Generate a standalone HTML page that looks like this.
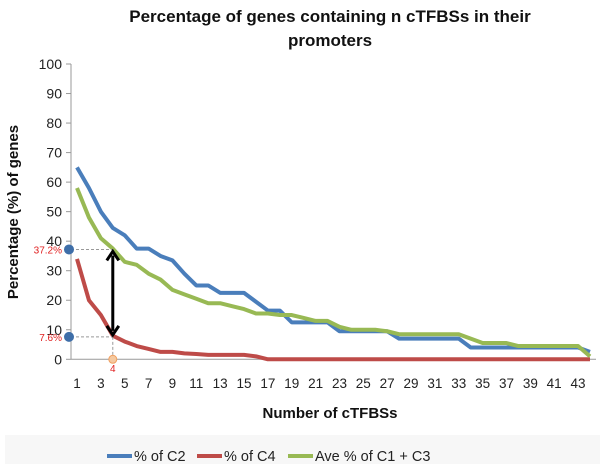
<!DOCTYPE html>
<html><head><meta charset="utf-8"><style>
body{margin:0;background:#fff;}
svg text{font-family:"Liberation Sans",sans-serif;}
</style></head><body>
<svg id="chart" width="600" height="464" xmlns="http://www.w3.org/2000/svg">
<rect x="5" y="435" width="595" height="29" fill="#f7f7f7"/>
<text x="330" y="22" font-size="17" font-weight="bold" text-anchor="middle" fill="#111">Percentage of genes containing n cTFBSs in their</text>
<text x="330" y="46" font-size="17" font-weight="bold" text-anchor="middle" fill="#111">promoters</text>
<text x="0" y="0" font-size="15" font-weight="bold" text-anchor="middle" fill="#111" transform="translate(18,212) rotate(-90)">Percentage (%) of genes</text>
<text x="330" y="418" font-size="15" font-weight="bold" text-anchor="middle" fill="#111">Number of cTFBSs</text>
<g id="axes"></g>
<g id="series"></g>
<g id="annot"></g>
<g id="legend"></g>
</svg>
<script>
const categories = Array.from({length:44},(_,i)=>i+1);
const c2 = [65,58,50,44.5,42,37.5,37.5,35,33.5,29,25,25,22.5,22.5,22.5,19.5,16.5,16.5,12.5,12.5,12.5,12.5,9.5,9.5,9.5,9.5,9.5,7,7,7,7,7,7,4,4,4,4,4,4,4,4,4,4,2.5];
const c4 = [34,20,15,8,6,4.5,3.5,2.5,2.5,2,1.8,1.5,1.5,1.5,1.5,1,0,0,0,0,0,0,0,0,0,0,0,0,0,0,0,0,0,0,0,0,0,0,0,0,0,0,0,0];
const c13 = [58,48,41,37.5,33,32,29,27,23.5,22,20.5,19,19,18,17,15.5,15.5,15,15,14,13,13,11,10,10,10,9.5,8.5,8.5,8.5,8.5,8.5,8.5,7,5.5,5.5,5.5,4.5,4.5,4.5,4.5,4.5,4.5,1];
const yTicks = [0,10,20,30,40,50,60,70,80,90,100];
const xTickLabels = [1,3,5,7,9,11,13,15,17,19,21,23,25,27,29,31,33,35,37,39,41,43];
const seriesNames = ["% of C2","% of C4","Ave % of C1 + C3"];
const seriesColors = ["#4a7ebb","#be4b48","#98b954"];

const NS="http://www.w3.org/2000/svg";
const x = v => 77 + (v-1)*11.93;
const y = v => 359.3 - v*2.953;
function mk(tag, attrs, parent){const e=document.createElementNS(NS,tag);for(const k in attrs)e.setAttribute(k,attrs[k]);parent.appendChild(e);return e;}
const axes=document.getElementById('axes');
let l=mk('line',{x1:71,y1:y(0),x2:71,y2:y(100),stroke:'#999'},axes);


l=mk('line',{x1:71,y1:y(0),x2:596,y2:y(0),stroke:'#999'},axes);


yTicks.forEach(t=>{
  const tk=mk('line',{x1:66,y1:y(t),x2:71,y2:y(t),stroke:'#999'},axes);
  
  
  const tx=mk('text',{x:62,y:y(t)+5,'font-size':14,'text-anchor':'end',fill:'#222'},axes);
  tx.textContent=t;
  
  
});
xTickLabels.forEach(t=>{
  const tx=mk('text',{x:x(t),y:388,'font-size':13.5,'text-anchor':'middle',fill:'#222'},axes);
  tx.textContent=t;
  
  
});
const ser=document.getElementById('series');
[c2,c4,c13].forEach((d,i)=>{
  const p=mk('polyline',{points:d.map((v,j)=>x(categories[j])+','+y(v)).join(' '),fill:'none',stroke:seriesColors[i],'stroke-width':4,'stroke-linejoin':'round'},ser);
  
  
});
const an=document.getElementById('annot');
const ya=y(37.2), yb=y(7.6), xa=x(4);
an.innerHTML=`
<line x1="71" y1="${ya}" x2="${xa}" y2="${ya}" stroke="#999" stroke-dasharray="3,2"/>
<line x1="71" y1="${yb}" x2="${xa}" y2="${yb}" stroke="#999" stroke-dasharray="3,2"/>
<line x1="${xa}" y1="${yb}" x2="${xa}" y2="${y(0)}" stroke="#999" stroke-dasharray="3,2"/>
<circle cx="69" cy="${ya}" r="5" fill="#3e6ea8"/>
<circle cx="69" cy="${yb}" r="5" fill="#3e6ea8"/>
<circle cx="${xa}" cy="${y(0)}" r="4" fill="#f5c9a0" stroke="#f0a060"/>
<text x="62" y="${ya+4}" font-size="10" fill="#e02020" text-anchor="end">37.2%</text>
<text x="62" y="${yb+4}" font-size="10" fill="#e02020" text-anchor="end">7.6%</text>
<text x="${xa}" y="372" font-size="10" fill="#e02020" text-anchor="middle">4</text>
<line x1="${xa}" y1="${ya+6}" x2="${xa}" y2="${yb-6}" stroke="#000" stroke-width="3"/>
<polyline points="${xa-6},${ya+11} ${xa},${ya+2} ${xa+6},${ya+11}" fill="none" stroke="#000" stroke-width="3"/>
<polyline points="${xa-6},${yb-11} ${xa},${yb-2} ${xa+6},${yb-11}" fill="none" stroke="#000" stroke-width="3"/>`;
const lg=document.getElementById('legend');
const lx=[107,197,288];
seriesNames.forEach((n,i)=>{
  const g=mk('g',{},lg);
  
  
  mk('line',{x1:lx[i],y1:456,x2:lx[i]+25,y2:456,stroke:seriesColors[i],'stroke-width':4},g);
  const t=mk('text',{x:lx[i]+27,y:461,'font-size':14.5,fill:'#222'},g);
  t.textContent=n;
});
</script>
</body></html>
